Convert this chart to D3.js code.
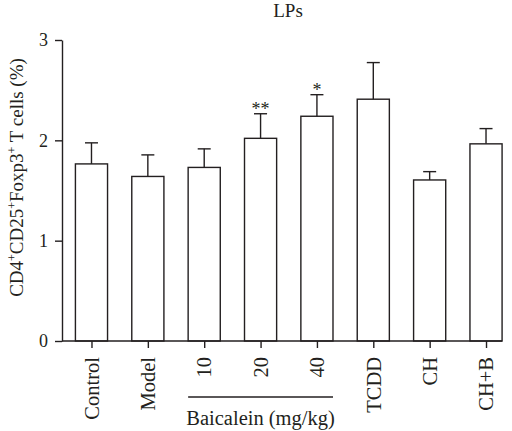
<!DOCTYPE html>
<html>
<head>
<meta charset="utf-8">
<script src="https://cdn.jsdelivr.net/npm/d3@7"></script>
<style>
  html, body { margin: 0; padding: 0; background: #fff; }
  svg { display: block; }
  text { font-family: "Liberation Serif", "DejaVu Serif", serif; fill: #231f20; }
</style>
</head>
<body>
<svg id="chart" width="512" height="431"></svg>
<script>
const categories = ["Control", "Model", "10", "20", "40", "TCDD", "CH", "CH+B"];
const means = [1.765, 1.64, 1.73, 2.02, 2.24, 2.41, 1.605, 1.965];
const errors = [0.21, 0.215, 0.185, 0.245, 0.215, 0.365, 0.083, 0.152];
const significance = ["", "", "", "**", "*", "", "", ""];
const yTicks = [0, 1, 2, 3];
const title = "LPs";
const groupLabel = "Baicalein (mg/kg)";
const groupMembers = ["10", "20", "40"];

const ink = "#231f20";
const svg = d3.select("#chart");

const x = d3.scalePoint().domain(categories).range([63.3, 514.2]).padding(0.5);
const step = x.step();
const barW = step * 0.57;
const y = d3.scaleLinear().domain([0, 3]).range([341, 40]);
const x0 = 62;

// Bars
svg.append("g").selectAll("rect").data(categories).join("rect")
  .attr("x", d => x(d) - barW / 2)
  .attr("y", (d, i) => y(means[i]))
  .attr("width", barW)
  .attr("height", (d, i) => y(0) - y(means[i]))
  .attr("fill", "#fff")
  .attr("stroke", ink)
  .attr("stroke-width", 1.4);

// Error bars
const eb = svg.append("g").attr("stroke", ink).attr("stroke-width", 1.4);
categories.forEach((c, i) => {
  const cx = x(c);
  eb.append("line").attr("x1", cx).attr("x2", cx).attr("y1", y(means[i])).attr("y2", y(means[i] + errors[i]));
  eb.append("line").attr("x1", cx - 6.5).attr("x2", cx + 6.5).attr("y1", y(means[i] + errors[i])).attr("y2", y(means[i] + errors[i]));
});

// Significance
svg.append("g").selectAll("text").data(categories).join("text")
  .attr("x", d => x(d))
  .attr("y", (d, i) => y(means[i] + errors[i]) + 1)
  .attr("text-anchor", "middle")
  .attr("font-size", 18)
  .text((d, i) => significance[i]);

// Y axis
const yAxis = d3.axisLeft(y).tickValues(yTicks).tickFormat(d3.format("d")).tickSize(7).tickSizeOuter(0).tickPadding(7);
const gy = svg.append("g").attr("transform", `translate(${x0},0)`).call(yAxis);
gy.select(".domain").attr("stroke", ink).attr("stroke-width", 1.4);
gy.selectAll(".tick line").attr("stroke", ink).attr("stroke-width", 1.4);
gy.selectAll(".tick text").attr("font-size", 18).attr("font-family", "Liberation Serif").attr("fill", ink);

// X axis
const xAxis = d3.axisBottom(x).tickSize(7).tickSizeOuter(0).tickPadding(9);
const gx = svg.append("g").attr("transform", `translate(0,${y(0)})`).call(xAxis);
gx.select(".domain").attr("d", `M${x0},0H${x(categories[categories.length - 1]) + barW / 2}`).attr("stroke", ink).attr("stroke-width", 1.4);
gx.selectAll(".tick line").attr("stroke", ink).attr("stroke-width", 1.4);
gx.selectAll(".tick text")
  .attr("font-size", 20.5).attr("font-family", "Liberation Serif").attr("fill", ink)
  .attr("text-anchor", "end")
  .attr("transform", "rotate(-90)")
  .attr("x", -16).attr("y", 0).attr("dy", "0.33em");

// Group line + label
const gStart = x(groupMembers[0]) - barW / 2;
const gEnd = x(groupMembers[groupMembers.length - 1]) + barW / 2;
svg.append("line").attr("x1", gStart).attr("x2", gEnd).attr("y1", 397).attr("y2", 397)
  .attr("stroke", ink).attr("stroke-width", 1.4);
svg.append("text").attr("x", (gStart + gEnd) / 2).attr("y", 425).attr("text-anchor", "middle")
  .attr("font-size", 20.5).text(groupLabel);

// Title
svg.append("text").attr("x", 288).attr("y", 17).attr("text-anchor", "middle").attr("font-size", 19).text(title);

// Y label
const yl = svg.append("text").attr("transform", "translate(23,177.5) rotate(-90)").attr("text-anchor", "middle").attr("font-size", 19);
const parts = [["CD4", false], ["+", true], ["CD25", false], ["+", true], ["Foxp3", false], ["+", true], [" T cells (%)", false]];
parts.forEach(([t, sup]) => {
  const ts = yl.append("tspan").text(t);
  if (sup) ts.attr("font-size", 12).attr("dy", -7);
  else ts.attr("dy", 7 * (yl.selectAll("tspan").size() > 1 ? 1 : 0));
});
</script>
</body>
</html>
